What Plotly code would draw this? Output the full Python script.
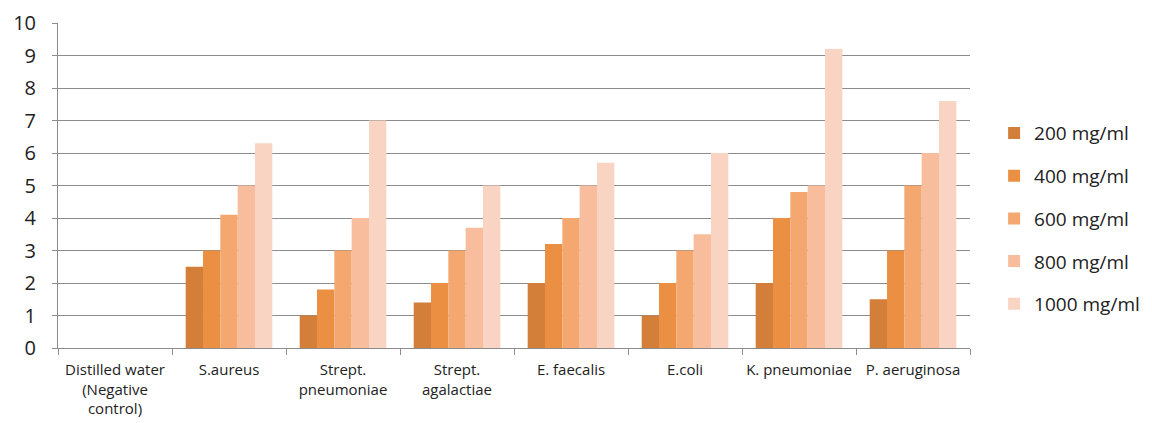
import plotly.graph_objects as go

categories = ["Distilled water<br>(Negative<br>control)", "S.aureus", "Strept.<br>pneumoniae",
              "Strept.<br>agalactiae", "E. faecalis", "E.coli", "K. pneumoniae", "P. aeruginosa"]
series_names = ["200 mg/ml", "400 mg/ml", "600 mg/ml", "800 mg/ml", "1000 mg/ml"]
v200 = [0, 2.5, 1.0, 1.4, 2.0, 1.0, 2.0, 1.5]
v400 = [0, 3.0, 1.8, 2.0, 3.2, 2.0, 4.0, 3.0]
v600 = [0, 4.1, 3.0, 3.0, 4.0, 3.0, 4.8, 5.0]
v800 = [0, 5.0, 4.0, 3.7, 5.0, 3.5, 5.0, 6.0]
v1000 = [0, 6.3, 7.0, 5.0, 5.7, 6.0, 9.2, 7.6]
colors = ["#D37F3A", "#EB9043", "#F5A770", "#F8BD9D", "#FAD4C2"]

fig = go.Figure()
for i, (name, vals) in enumerate(zip(series_names, [v200, v400, v600, v800, v1000])):
    fig.add_trace(go.Bar(x=categories, y=vals, name=name, marker_color=colors[i],
                         marker_line_width=0, legendgroup=name))

fig.update_layout(
    width=1152, height=423,
    margin=dict(l=50, r=190, t=15, b=83),
    paper_bgcolor="white", plot_bgcolor="white",
    barmode="group", bargap=0.24, bargroupgap=0,
    font=dict(family="Open Sans, sans-serif", color="#222222"),
    legend=dict(xref="container", x=0.856, xanchor="left", y=0.398, yanchor="middle",
                font=dict(size=19, color="#222222"), tracegroupgap=15,
                traceorder="grouped", itemwidth=30),
    showlegend=True,
)
fig.update_yaxes(range=[0, 10], dtick=1, showgrid=True, gridcolor="#8C8C8C", gridwidth=1,
                 showline=True, linecolor="#8C8C8C", ticks="outside", ticklen=5,
                 tickcolor="#8C8C8C", tickfont=dict(size=20, color="#222222"), zeroline=False,
                 ticklabelstandoff=12, automargin=False)
fig.update_xaxes(showline=True, linecolor="#8C8C8C", ticks="outside", ticklen=6,
                 tickcolor="#8C8C8C", tickson="boundaries", automargin=False,
                 ticklabelstandoff=8, tickangle=0,
                 tickfont=dict(size=15, color="#222222"), mirror=False)

fig.write_html("out.html")
